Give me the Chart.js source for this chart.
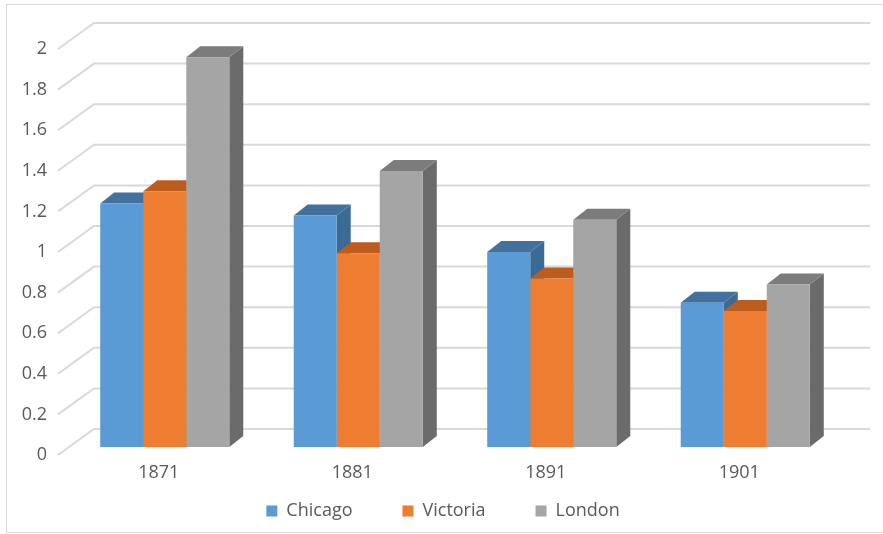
<!DOCTYPE html>
<html>
<head>
<meta charset="utf-8">
<script src="https://cdn.jsdelivr.net/npm/chart.js@4"></script>
<style>
  html, body { margin: 0; padding: 0; background: #fff; }
  #wrap { position: relative; width: 883px; height: 534px; }
  #frame { position: absolute; left: 6px; top: 4px; width: 890px; height: 529px; border: 1px solid #d9d9d9; box-sizing: border-box; }
  canvas { position: absolute; left: 0; top: 0; }
</style>
</head>
<body>
<div id="wrap">
  <div id="frame"></div>
  <canvas id="chart" width="883" height="534"></canvas>
</div>
<script>
const years = ['1871', '1881', '1891', '1901'];
const chicago = [1.20, 1.14, 0.96, 0.71];
const victoria = [1.26, 0.955, 0.83, 0.67];
const london = [1.92, 1.36, 1.12, 0.80];
const yTicks = [0, 0.2, 0.4, 0.6, 0.8, 1, 1.2, 1.4, 1.6, 1.8, 2];

const textColor = '#595959';
const gridColor = '#d9d9d9';

// face colours: front, top, side
const shades = [
  ['#5b9bd5', '#41719c', '#3c6a96'],
  ['#ed7d31', '#bd5d1d', '#b3561a'],
  ['#a5a5a5', '#7c7c7c', '#6b6b6b'],
];

const depth = { dx: 14, dy: -11 };   // bar depth
const wall = { dx: 26, dy: -18 };    // back wall offset
const front = { dx: -10, dy: 8 };    // floor front edge offset

const threeD = {
  id: 'threeD',
  beforeDatasetsDraw(chart) {
    const { ctx, chartArea: a, scales: { y } } = chart;
    ctx.save();
    ctx.strokeStyle = gridColor;
    ctx.lineWidth = 2;
    yTicks.forEach(v => {
      const py = y.getPixelForValue(v);
      ctx.beginPath();
      ctx.moveTo(a.left + front.dx, py + front.dy);
      ctx.lineTo(a.left + wall.dx, py + wall.dy);
      ctx.lineTo(a.right + wall.dx + 2, py + wall.dy);
      ctx.stroke();
    });

    // tops and sides, left to right so the next bar covers the previous side
    const metas = chart.data.datasets.map((d, i) => chart.getDatasetMeta(i));
    years.forEach((yr, j) => {
      metas.forEach((meta, i) => {
        const bar = meta.data[j];
        const l = bar.x - bar.width / 2, r = bar.x + bar.width / 2;
        const t = bar.y, b = bar.base;
        ctx.fillStyle = shades[i][2];
        ctx.beginPath();
        ctx.moveTo(r, t);
        ctx.lineTo(r + depth.dx, t + depth.dy);
        ctx.lineTo(r + depth.dx, b + depth.dy);
        ctx.lineTo(r, b);
        ctx.closePath();
        ctx.fill();
        ctx.fillStyle = shades[i][1];
        ctx.beginPath();
        ctx.moveTo(l, t);
        ctx.lineTo(l + depth.dx, t + depth.dy);
        ctx.lineTo(r + depth.dx, t + depth.dy);
        ctx.lineTo(r, t);
        ctx.closePath();
        ctx.fill();
      });
    });
    ctx.restore();
  }
};

new Chart(document.getElementById('chart'), {
  type: 'bar',
  data: {
    labels: years,
    datasets: [
      { label: 'Chicago', data: chicago, backgroundColor: shades[0][0] },
      { label: 'Victoria', data: victoria, backgroundColor: shades[1][0] },
      { label: 'London', data: london, backgroundColor: shades[2][0] },
    ],
  },
  options: {
    responsive: false,
    animation: false,
    layout: { padding: { top: 41, left: 10, right: 7, bottom: 4 } },
    datasets: {
      bar: { categoryPercentage: 0.667, barPercentage: 1, borderWidth: 0 },
    },
    plugins: {
      legend: {
        position: 'bottom',
        labels: {
          boxWidth: 11,
          boxHeight: 11,
          padding: 50,
          color: textColor,
          font: { family: 'Open Sans', size: 18 },
        },
      },
      tooltip: { enabled: false },
    },
    scales: {
      x: {
        grid: { display: false, drawTicks: false },
        border: { display: false },
        ticks: {
          color: textColor,
          font: { family: 'Open Sans', size: 18 },
          mirror: true,   // keeps the labels from being clipped to the thin axis box
          padding: -37,
          labelOffset: -6,
        },
        afterFit(scale) { scale.height = 5; },
      },
      y: {
        min: 0,
        max: 2,
        grid: { display: false, drawTicks: false },
        border: { display: false },
        afterBuildTicks(scale) { scale.ticks = yTicks.map(v => ({ value: v })); },
        ticks: {
          color: textColor,
          font: { family: 'Open Sans', size: 18 },
          padding: 21,
          labelOffset: 8,
          callback: v => String(v),
        },
        afterFit(scale) { scale.width = 58; },
      },
      // empty right axis, only keeps room for the depth of the back wall
      y2: {
        position: 'right',
        grid: { display: false },
        border: { display: false },
        ticks: { display: false },
        afterFit(scale) { scale.width = 34; },
      },
    },
  },
  plugins: [threeD],
});
</script>
</body>
</html>
